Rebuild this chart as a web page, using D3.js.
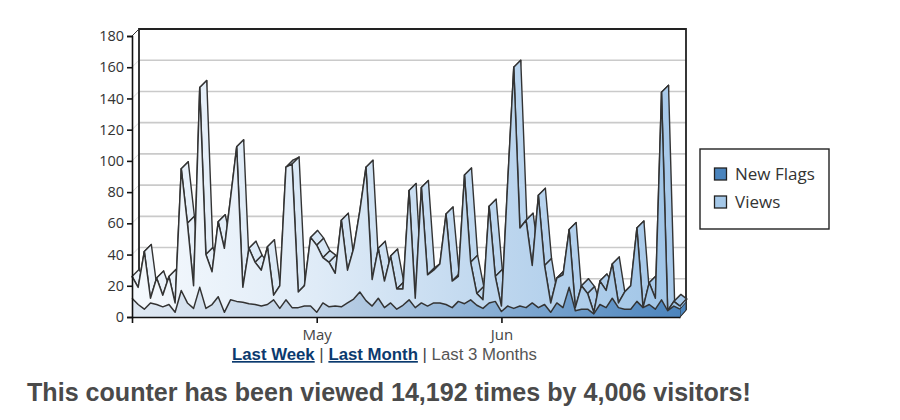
<!DOCTYPE html>
<html><head><meta charset="utf-8">
<script src="https://cdn.jsdelivr.net/npm/d3@7"></script>
<style>html,body{margin:0;padding:0;background:#fff}svg{display:block}</style>
</head><body><svg id="c" width="900" height="420"></svg>
<script>
const views=[26,19,42,12,25,14,26,9,95,60,20,147,40,29,61,44,76,109,19,44,35,30,45,14,20,96,98,16,20,51,46,38,35,28,62,30,44,68,96,24,44,23,39,18,18,81,12,83,27,30,34,66,23,26,91,35,15,11,71,26,7,85,160,57,62,33,78,33,9,25,27,56,6,20,15,3,23,17,34,9,16,20,57,6,22,12,144,4,10,7];
const flags=[12,8,5,9,8,6.5,8,3,17,9,5.5,19,5.5,8,13,3,11,10,9.5,8.5,8,7,8,11,5.5,11,6,6,7,7,3,9,6.5,7,6.5,9,11.5,16,10.5,7,12,6,9,5,7.5,11,6,9,7,9,9,8,6,10,8.5,11,7.5,5.5,9,10,3.5,7,5.5,7,6,9,6,8,3,9,6,19,4,5,5,2,8,6,12,6,5,5,10,6,8,5,11,4,7,5];
const yTicks=[0,20,40,60,80,100,120,140,160,180];
const xTickIndex=[0,30,60];
const xTickLabels=["","May","Jun"];
const legendNames=["New Flags","Views"];
const legendColors=["#4a84bd","#a5c8e8"];

const dx=7,dy=-7,x0=132,x1=680,y0=317,y1=36;
const x=d3.scaleLinear().domain([0,views.length-1]).range([x0,x1]);
const y=d3.scaleLinear().domain([0,180]).range([y0,y1]);
const svg=d3.select("#c");
const defs=svg.append("defs");
function grad(id,a,b){const g=defs.append("linearGradient").attr("id",id).attr("gradientUnits","userSpaceOnUse").attr("x1",x0).attr("x2",x1+dx).attr("y1",0).attr("y2",0);
 a.forEach((c,i)=>g.append("stop").attr("offset",i/(a.length-1)).attr("stop-color",c));}
grad("gv",["#f5f9fd","#dfebf7","#bdd6ee","#9dc3e6"]);
grad("gf",["#e0e9f3","#bfd2e6","#85acd3","#4a83bc"]);
grad("gt",["#eef4fb","#d8e7f5","#bcd6ef","#a6c8e9"]);

// back wall gridlines + depth ticks
const grid=svg.append("g");
yTicks.filter(d=>d>0&&d<180).forEach(d=>{
 grid.append("line").attr("x1",x0+dx).attr("x2",x1+dx-1).attr("y1",y(d)+dy).attr("y2",y(d)+dy).attr("stroke","#cacaca").attr("stroke-width",1.6);
 grid.append("line").attr("x1",x0).attr("x2",x0+dx).attr("y1",y(d)).attr("y2",y(d)+dy).attr("stroke","#dcdcdc").attr("stroke-width",1);
});
// wall frame
svg.append("path").attr("d",`M${x0+dx},${y0+dy}V${y(180)+dy}H${x1+dx-1}V${y0+dy}`).attr("fill","none").attr("stroke","#222").attr("stroke-width",1.8);
svg.append("line").attr("x1",x0).attr("y1",y(180)).attr("x2",x0+dx).attr("y2",y(180)+dy).attr("stroke","#333").attr("stroke-width",1);

// Views ribbon
const rib=svg.append("g");
views.slice(0,-1).forEach((v,i)=>{
 const a=x(i),b=x(i+1),p=y(v),q=y(views[i+1]);
 rib.append("path").attr("d",`M${a},${p}L${b},${q}L${b+dx},${q+dy}L${a+dx},${p+dy}Z`)
  .attr("fill","url(#gt)").attr("stroke","#333").attr("stroke-width",1.4).attr("stroke-linejoin","round");
});
const last=views.length-1;
// right side faces
svg.append("path").attr("d",`M${x1},${y(views[last])}L${x1+dx-1},${y(views[last])+dy}L${x1+dx-1},${y0+dy}L${x1},${y0}Z`).attr("fill","#8fb8e0").attr("stroke","#333").attr("stroke-width",1.2);
svg.append("path").attr("d",`M${x1},${y(flags[last])}L${x1+dx-1},${y(flags[last])+dy}L${x1+dx-1},${y0+dy}L${x1},${y0}Z`).attr("fill","#4a84bd").attr("stroke","#333").attr("stroke-width",1);

const area=s=>d3.area().x((d,i)=>x(i)).y0(y0).y1(d=>y(d))(s);
const line=s=>d3.line().x((d,i)=>x(i)).y(d=>y(d))(s);
svg.append("path").attr("d",area(views)).attr("fill","url(#gv)");
svg.append("path").attr("d",line(views)).attr("fill","none").attr("stroke","#333").attr("stroke-width",1.5).attr("stroke-linejoin","round");
svg.append("path").attr("d",area(flags)).attr("fill","url(#gf)");
svg.append("path").attr("d",line(flags)).attr("fill","none").attr("stroke","#333").attr("stroke-width",1.5).attr("stroke-linejoin","round");

// axes
const yAxis=svg.append("g").attr("transform",`translate(${x0},0)`).call(d3.axisLeft(y).tickValues(yTicks).tickSize(5).tickPadding(3));
yAxis.selectAll("text").attr("font-family","Open Sans").attr("font-size",14.5).attr("fill","#333");
yAxis.selectAll("line,path").attr("stroke","#111").attr("stroke-width",1.6);
const xAxis=svg.append("g").attr("transform",`translate(0,${y0})`).call(d3.axisBottom(x).tickValues(xTickIndex).tickFormat((d,i)=>xTickLabels[i]).tickSize(6).tickSizeOuter(0).tickPadding(6));
xAxis.selectAll("text").attr("font-family","Open Sans").attr("font-size",15).attr("fill","#444");
xAxis.selectAll("line,path").attr("stroke","#111").attr("stroke-width",1.6);

// legend
const lg=svg.append("g");
lg.append("rect").attr("x",700).attr("y",149).attr("width",129).attr("height",80).attr("fill","#fff").attr("stroke","#222").attr("stroke-width",1.4);
legendNames.forEach((n,i)=>{
 const ly=168+i*28;
 lg.append("rect").attr("x",714.5).attr("y",ly).attr("width",12).attr("height",12).attr("fill",legendColors[i]).attr("stroke","#222").attr("stroke-width",1.3);
 lg.append("text").attr("x",735).attr("y",ly+12).text(n).attr("font-family","Open Sans").attr("font-size",17).attr("fill","#333");
});

// links
const t=svg.append("text").attr("x",232).attr("y",360).attr("font-family","Liberation Sans").attr("font-size",16.8);
t.append("tspan").text("Last Week").attr("font-weight","bold").attr("fill","#0b3a6e").attr("text-decoration","underline");
t.append("tspan").text(" | ").attr("fill","#444");
t.append("tspan").text("Last Month").attr("font-weight","bold").attr("fill","#0b3a6e").attr("text-decoration","underline");
t.append("tspan").text(" | ").attr("fill","#444");
t.append("tspan").text("Last 3 Months").attr("fill","#555");
svg.append("text").attr("x",27).attr("y",401).attr("font-family","Liberation Sans").attr("font-weight","bold").attr("font-size",25.1).attr("fill","#4a4a4a").text("This counter has been viewed 14,192 times by 4,006 visitors!");
</script></body></html>
